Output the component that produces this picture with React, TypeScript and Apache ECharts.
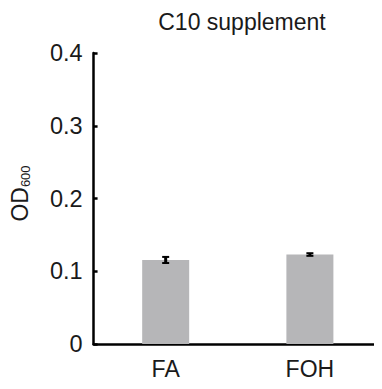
import React, { useEffect, useRef } from "react";
import * as echarts from "echarts";

const categories = ["FA", "FOH"];
const means = [0.1155, 0.123];
const errors = [0.0042, 0.0018];
const yTicks = [0, 0.1, 0.2, 0.3, 0.4];
const title = "C10 supplement";

const FONT = "'Liberation Sans', Arial, sans-serif";

export default function App() {
  const ref = useRef<HTMLDivElement>(null);
  useEffect(() => {
    if (!ref.current) return;
    const chart = echarts.init(ref.current, null, { renderer: "svg" });
    chart.setOption({
      animation: false,
      backgroundColor: "#ffffff",
      title: {
        text: title,
        left: 237,
        textAlign: "center",
        top: 5,
        textStyle: { fontFamily: FONT, fontSize: 23, fontWeight: "normal", color: "#1a1a1a" },
      },
      grid: { left: 91, top: 53, width: 298, height: 291 },
      xAxis: {
        type: "category",
        data: categories,
        axisLine: { lineStyle: { color: "#000", width: 2.5 } },
        axisTick: { show: false },
        axisLabel: { fontFamily: FONT, fontSize: 23, color: "#1a1a1a", margin: 13 },
      },
      yAxis: {
        type: "value",
        min: yTicks[0],
        max: yTicks[yTicks.length - 1],
        interval: 0.1,
        splitLine: { show: false },
        axisLine: { show: true, lineStyle: { color: "#000", width: 2.5 } },
        axisTick: { show: true, inside: true, length: 4, lineStyle: { color: "#000", width: 2.5 } },
        axisLabel: { fontFamily: FONT, fontSize: 23.5, color: "#1a1a1a", margin: 11 },
        name: "{a|OD}{b|600}",
        nameLocation: "middle",
        nameRotate: 90,
        nameGap: 54,
        nameTextStyle: {
          rich: {
            a: { fontFamily: FONT, fontSize: 23, color: "#1a1a1a", lineHeight: 24, verticalAlign: "top", padding: [0, 0, 8, 10] },
            b: { fontFamily: FONT, fontSize: 13, color: "#1a1a1a", lineHeight: 13, verticalAlign: "bottom" },
          },
        },
      },
      series: [
        {
          type: "bar",
          data: means,
          barWidth: 47,
          itemStyle: { color: "#b6b6b8" },
        },
        {
          type: "custom",
          data: means.map((m, i) => [i, m, errors[i]]),
          z: 10,
          renderItem: (params: any, api: any) => {
            const x = api.value(0);
            const m = api.value(1);
            const e = api.value(2);
            const top = api.coord([x, m + e]);
            const bot = api.coord([x, m - e]);
            const hw = 3.5;
            const style = { stroke: "#000", lineWidth: 2 };
            return {
              type: "group",
              children: [
                { type: "line", shape: { x1: top[0], y1: top[1], x2: bot[0], y2: bot[1] }, style: { stroke: "#000", lineWidth: 3 } },
                { type: "line", shape: { x1: top[0] - hw, y1: top[1], x2: top[0] + hw, y2: top[1] }, style },
                { type: "line", shape: { x1: bot[0] - hw, y1: bot[1], x2: bot[0] + hw, y2: bot[1] }, style },
              ],
            };
          },
        },
      ],
    });
    return () => chart.dispose();
  }, []);
  return <div ref={ref} style={{ width: 382, height: 389, margin: -8 }} />;
}
